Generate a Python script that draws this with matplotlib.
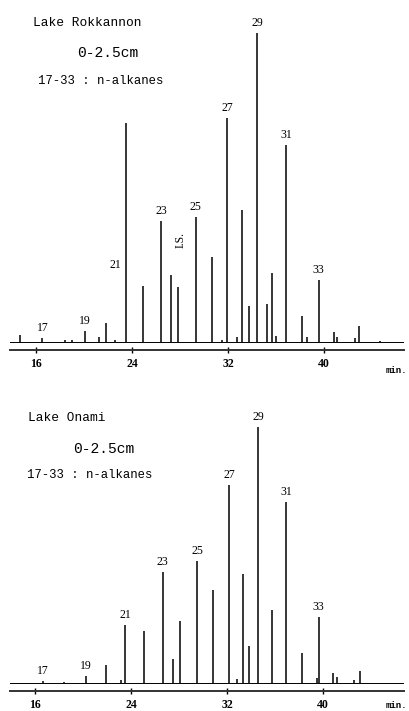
import numpy as np
from matplotlib import pyplot as plt

# Lake Rokkannon: retention time (min) and peak height (arbitrary units)
top_t = [14.67, 16.53, 18.42, 19.0, 20.11, 21.25, 21.81, 22.58, 23.48, 24.94,
         26.42, 27.25, 27.86, 29.31, 30.64, 31.48, 31.92, 32.73, 33.19, 33.75,
         34.42, 35.28, 35.67, 36.0, 36.86, 38.17, 38.56, 39.56, 40.81, 41.06,
         42.58, 42.94, 44.67]
top_h = [7, 4, 2, 2, 11, 5, 19, 2, 219, 56,
         121, 67, 55, 125, 85, 2, 224, 5, 132, 36,
         309, 38, 69, 6, 197, 26, 5, 62, 10, 5,
         4, 16, 1]

# Lake Onami
bot_t = [16.69, 18.44, 20.23, 21.89, 23.14, 23.53, 25.08, 26.64, 27.5, 28.08,
         29.5, 30.86, 32.17, 32.86, 33.36, 33.83, 34.61, 35.75, 36.94, 38.23,
         39.47, 39.64, 40.86, 41.19, 42.61, 43.08]
bot_h = [2, 1, 7, 18, 3, 58, 52, 111, 24, 62,
         122, 93, 198, 4, 109, 37, 256, 73, 181, 30,
         5, 66, 10, 6, 3, 12]

# n-alkane labels (carbon number) and their retention times
alkanes = [17, 19, 21, 23, 25, 27, 29, 31, 33]
top_alk_t = [16.53, 20.11, 23.48, 26.42, 29.31, 31.92, 34.42, 36.86, 39.56]
bot_alk_t = [16.69, 20.23, 23.53, 26.64, 29.5, 32.17, 34.61, 36.94, 39.64]
is_t = 27.86  # internal standard (top panel)

ticks = [16, 24, 32, 40]
mono = 'Liberation Mono'
serif = 'Liberation Serif'

W, H = 410, 711
fig = plt.figure(figsize=(W / 100, H / 100), dpi=100)


def panel(top_px, axis_px, x16_px, t, h, alk_t, ymax):
    # axes placed in pixel terms: 12 px per minute, 1 px per height unit
    left_px, right_px = 10, 404
    x0 = 16 + (left_px - x16_px) / 12
    x1 = 16 + (right_px - x16_px) / 12
    ax = fig.add_axes([left_px / W, 1 - axis_px / H,
                       (right_px - left_px) / W, (axis_px - top_px) / H])
    ax.set_xlim(x0, x1)
    ax.set_ylim(-8, ymax)
    ax.axhline(0, color='k', lw=0.7)
    ax.vlines(t, 0, h, color='k', lw=1.1)
    for s in ['top', 'left', 'right']:
        ax.spines[s].set_visible(False)
    ax.spines['bottom'].set_color('#333333')
    ax.spines['bottom'].set_linewidth(1.4)
    ax.set_yticks([])
    ax.set_xticks(ticks)
    ax.set_xticklabels([str(v) for v in ticks], fontfamily=serif,
                       fontsize=8.5, fontweight='bold')
    ax.tick_params(axis='x', direction='inout', length=5, width=1, pad=3)
    lookup = dict(zip(t, h))
    for c, tt in zip(alkanes, alk_t):
        ax.text(tt, lookup[tt] + 10, str(c), ha='center', va='center',
                fontfamily=serif, fontsize=8.5)
    return ax, lookup


ax1, lk1 = panel(20, 350, 36, top_t, top_h, top_alk_t, 322)
# "21" sits beside its peak in the top trace
for txt in ax1.texts:
    if txt.get_text() == '21':
        txt.set_position((23.48 - 0.85, 77))
ax1.text(is_t + 0.2, lk1[is_t] + 47, 'I.S.', rotation=90, ha='center',
         va='center', fontfamily=serif, fontsize=8.5)

ax2, lk2 = panel(400, 691, 35, bot_t, bot_h, bot_alk_t, 283)


def ftext(x, y, s, size, weight='normal'):
    fig.text(x / W, 1 - y / H, s, ha='left', va='center',
             fontfamily=mono, fontsize=size, fontweight=weight)


ftext(33, 23, 'Lake Rokkannon', 9.3)
ftext(77, 53, '0-2.5cm', 10.5)
ftext(38, 81, '17-33 : n-alkanes', 8.8)
ftext(28, 418, 'Lake Onami', 9.3)
ftext(73, 449, '0-2.5cm', 10.5)
ftext(27, 475, '17-33 : n-alkanes', 8.8)
ftext(386, 370, 'min.', 6.5, 'bold')
ftext(386, 705, 'min.', 6.5, 'bold')

plt.savefig('out.png', dpi=100)
